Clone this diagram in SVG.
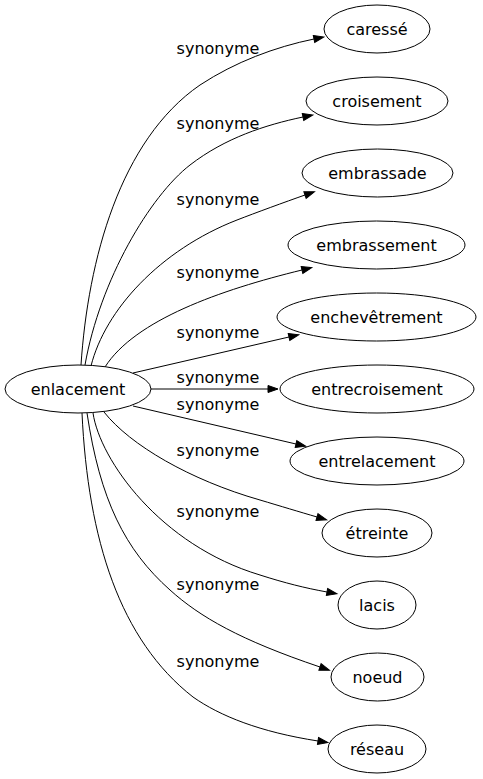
<svg xmlns="http://www.w3.org/2000/svg" width="483" height="779" viewBox="0 0 483 779">
<style>
.n ellipse{fill:#fff;stroke:#000;stroke-width:1}
text{font-family:"DejaVu Sans",sans-serif;font-size:16px;fill:#000}
.n text{text-anchor:middle}
.l{text-anchor:middle}
.e path{fill:none;stroke:#000;stroke-width:1;marker-end:url(#ah)}
</style>
<defs>
<marker id="ah" markerUnits="userSpaceOnUse" markerWidth="10" markerHeight="7" refX="0" refY="3.5" orient="auto" overflow="visible">
<path d="M0,0 L10,3.5 L0,7 z" fill="#000" stroke="#000" stroke-width="1"/>
</marker>
</defs>
<rect width="483" height="779" fill="#fff"/>
<g id="edges" class="e">
<path d="M81,365 C88,260 120,140 200,85 C235,62 275,47 314,39"/>
<path d="M85,365 C100,280 150,196 190,165 C225,138 265,125 303,117"/>
<path d="M91,366 C105,310 160,250 237,220 C255,213 285,202 305,195"/>
<path d="M105,367 C135,320 220,290 302,270"/>
<path d="M133,373 L289,337"/>
<path d="M151,389 L268,389"/>
<path d="M133,406 L296,444"/>
<path d="M104,412 C130,445 190,480 260,500 C280,506 300,512 317,517"/>
<path d="M93,413 C100,460 160,545 260,575 C285,583 305,588 327,592"/>
<path d="M87,413 C100,500 125,550 170,590 C200,617 240,640 320,667"/>
<path d="M82,413 C88,540 120,640 193,697 C220,716 260,732 318,741"/>
</g>
<g id="edge-labels">
<text class="l" x="218" y="54">synonyme</text>
<text class="l" x="218" y="129">synonyme</text>
<text class="l" x="218" y="205">synonyme</text>
<text class="l" x="218" y="278">synonyme</text>
<text class="l" x="218" y="338">synonyme</text>
<text class="l" x="218" y="383">synonyme</text>
<text class="l" x="218" y="410">synonyme</text>
<text class="l" x="218" y="456">synonyme</text>
<text class="l" x="218" y="517">synonyme</text>
<text class="l" x="218" y="590">synonyme</text>
<text class="l" x="218" y="667">synonyme</text>
</g>
<g id="n0" class="n"><ellipse cx="78" cy="389" rx="73" ry="24"/><text x="78" y="395">enlacement</text></g>
<g id="n1" class="n"><ellipse cx="377" cy="29" rx="53" ry="24"/><text x="377" y="35">caressé</text></g>
<g id="n2" class="n"><ellipse cx="377" cy="101" rx="71" ry="24"/><text x="377" y="107">croisement</text></g>
<g id="n3" class="n"><ellipse cx="377.5" cy="173" rx="75.5" ry="24"/><text x="377.5" y="179">embrassade</text></g>
<g id="n4" class="n"><ellipse cx="376.5" cy="245" rx="88.5" ry="24"/><text x="376.5" y="251">embrassement</text></g>
<g id="n5" class="n"><ellipse cx="376.5" cy="317" rx="99.5" ry="24"/><text x="376.5" y="323">enchevêtrement</text></g>
<g id="n6" class="n"><ellipse cx="377" cy="389" rx="97" ry="24"/><text x="377" y="395">entrecroisement</text></g>
<g id="n7" class="n"><ellipse cx="377" cy="461" rx="87" ry="24"/><text x="377" y="467">entrelacement</text></g>
<g id="n8" class="n"><ellipse cx="377" cy="533" rx="55" ry="24"/><text x="377" y="539">étreinte</text></g>
<g id="n9" class="n"><ellipse cx="377" cy="605" rx="39" ry="24"/><text x="377" y="611">lacis</text></g>
<g id="n10" class="n"><ellipse cx="377.5" cy="677" rx="46.5" ry="24"/><text x="377.5" y="683">noeud</text></g>
<g id="n11" class="n"><ellipse cx="377" cy="749" rx="49" ry="24"/><text x="377" y="755">réseau</text></g>
</svg>
